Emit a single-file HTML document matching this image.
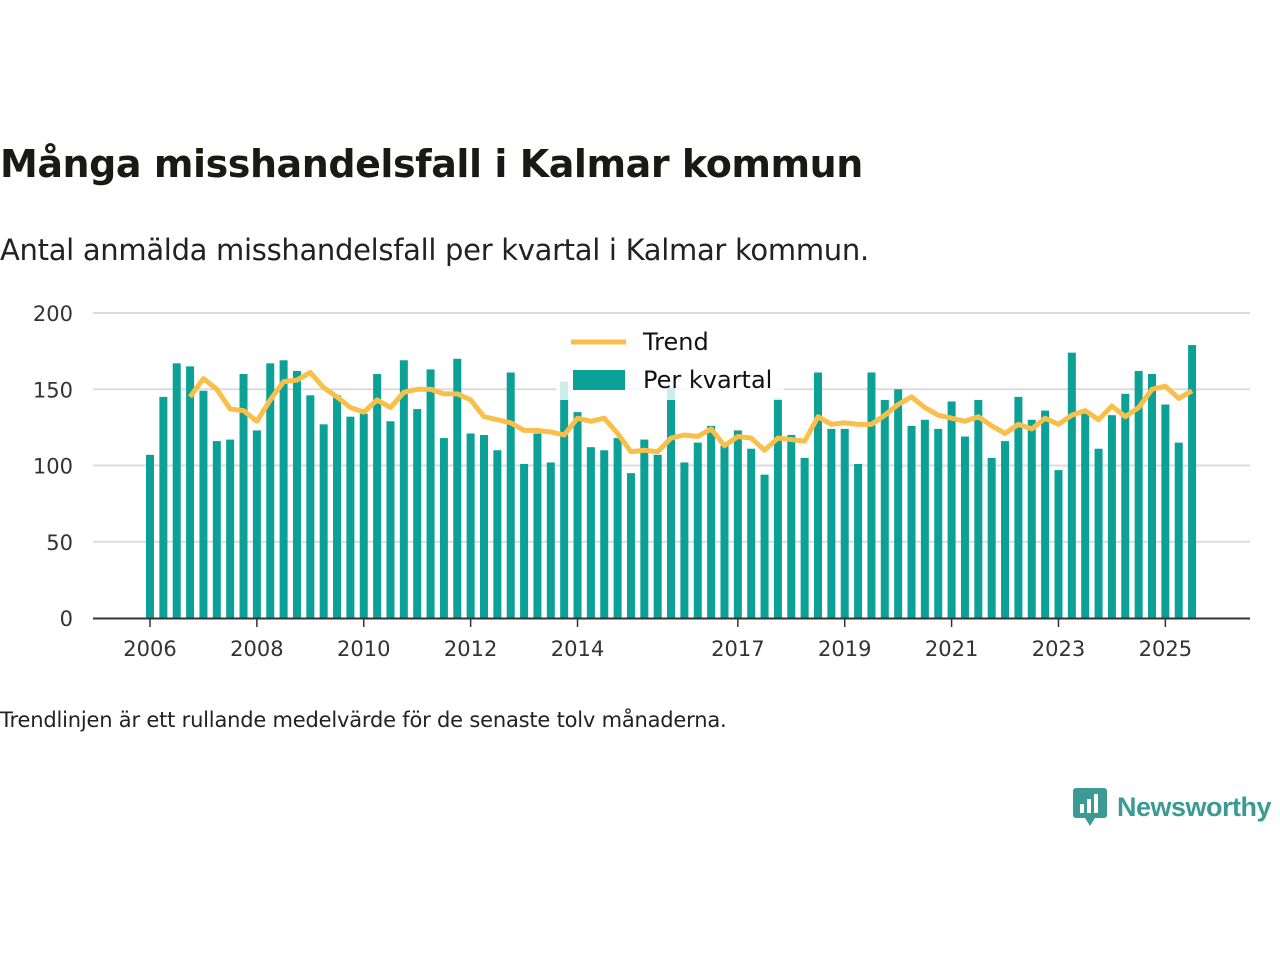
<!DOCTYPE html>
<html><head><meta charset="utf-8"><style>
body{margin:0;background:#fff;font-family:"Liberation Sans","DejaVu Sans",sans-serif;}
</style></head><body>
<div style="position:relative;width:1280px;height:960px;overflow:hidden">
<div style="position:absolute;left:0;top:142px;font-size:38px;font-weight:bold;color:#1a1a14;font-family:'DejaVu Sans',sans-serif;letter-spacing:-0.45px">Många misshandelsfall i Kalmar kommun</div>
<div style="position:absolute;left:0;top:233px;font-size:29px;color:#222;font-family:'DejaVu Sans',sans-serif;letter-spacing:-0.3px">Antal anmälda misshandelsfall per kvartal i Kalmar kommun.</div>
<svg id="chart" width="1280" height="960" style="position:absolute;left:0;top:0"></svg>
<div style="position:absolute;left:0;top:708px;font-size:21px;color:#222;font-family:'DejaVu Sans',sans-serif;letter-spacing:-0.2px">Trendlinjen är ett rullande medelvärde för de senaste tolv månaderna.</div>
<div style="position:absolute;left:1073px;top:786px;display:flex;align-items:center">
<svg width="34" height="42"><rect x="0" y="2" width="34" height="30" rx="3" fill="#3b9b94"/><polygon points="12,32 22,32 17,40" fill="#3b9b94"/><rect x="7" y="18" width="4" height="9" fill="#fff"/><rect x="14" y="13" width="4" height="14" fill="#fff"/><rect x="21" y="8" width="4" height="19" fill="#fff"/></svg>
<span style="font-size:27px;color:#3b9b94;font-weight:bold;margin-left:10px;letter-spacing:-0.5px">Newsworthy</span></div>
</div>
<script>
const values=[107,145,167,165,149,116,117,160,123,167,169,162,146,127,146,132,134,160,129,169,137,163,118,170,121,120,110,161,101,121,102,155,135,112,110,118,95,117,107,151,102,115,126,113,123,111,94,144,120,105,161,124,124,101,161,143,150,126,130,124,142,119,143,105,116,145,130,136,97,174,134,111,133,147,162,160,140,115,179];
const trend=[145,157,150,137,136,129,143,155,156,161,151,145,138,135,143,138,148,150,150,147,147,143,132,130,128,123,123,122,120,131,129,131,121,109,110,109,118,120,119,124,113,119,118,110,118,117,116,132,127,128,127,127,133,140,145,138,133,131,129,132,126,121,127,124,131,127,133,136,130,139,132,138,150,152,144,149];
const trendStart=3;
const yTicks=[0,50,100,150,200];
const xLabels=["2006","2008","2010","2012","2014","2017","2019","2021","2023","2025"];
const xLabelIdx=[0,8,16,24,32,44,52,60,68,76];
const svg=document.getElementById('chart');
const NS='http://www.w3.org/2000/svg';
const X=i=>150+i*13.36;
const Y=v=>618-v*1.525;
function mk(t,a){const e=document.createElementNS(NS,t);for(const k in a)e.setAttribute(k,a[k]);svg.appendChild(e);return e;}
yTicks.forEach(t=>{
 if(t>0){const g=mk('line',{x1:93,x2:1250,y1:Y(t),y2:Y(t),stroke:'#dcdcdc','stroke-width':2});
 
 }
 const l=mk('text',{x:73,y:Y(t)+8,'text-anchor':'end','font-size':21,fill:'#333','font-family':'DejaVu Sans, sans-serif'});
 l.textContent=t;
 
 
});
values.forEach((v,i)=>{
 const r=mk('rect',{x:X(i)-4,y:Y(v),width:8,height:v*1.525,fill:'#0ca196'});
 
 
});
const ax=mk('line',{x1:93,x2:1250,y1:618.5,y2:618.5,stroke:'#333','stroke-width':2});


xLabels.forEach((s,k)=>{
 const i=xLabelIdx[k];
 const tk=mk('line',{x1:X(i),x2:X(i),y1:619,y2:627,stroke:'#333','stroke-width':1.5});
 
 
 const t=mk('text',{x:X(i),y:656,'text-anchor':'middle','font-size':21,fill:'#333','font-family':'DejaVu Sans, sans-serif'});
 t.textContent=s;
 
 
});
const pts=trend.map((v,k)=>X(k+trendStart)+','+Y(v)).join(' ');
const pl=mk('polyline',{points:pts,fill:'none',stroke:'#f9bf4b','stroke-width':5,'stroke-linejoin':'round'});


const lb=mk('rect',{x:556,y:326,width:228,height:74,fill:'rgba(255,255,255,0.8)'});


const l1=mk('line',{x1:571,x2:626,y1:342,y2:342,stroke:'#f9bf4b','stroke-width':5});


const t1=mk('text',{x:643,y:350,'font-size':24,fill:'#111','font-family':'DejaVu Sans, sans-serif'});
t1.textContent='Trend';


const r2=mk('rect',{x:573,y:370,width:52,height:20,fill:'#0ca196'});


const t2=mk('text',{x:643,y:388,'font-size':24,fill:'#111','font-family':'DejaVu Sans, sans-serif'});
t2.textContent='Per kvartal';


</script>
</body></html>
